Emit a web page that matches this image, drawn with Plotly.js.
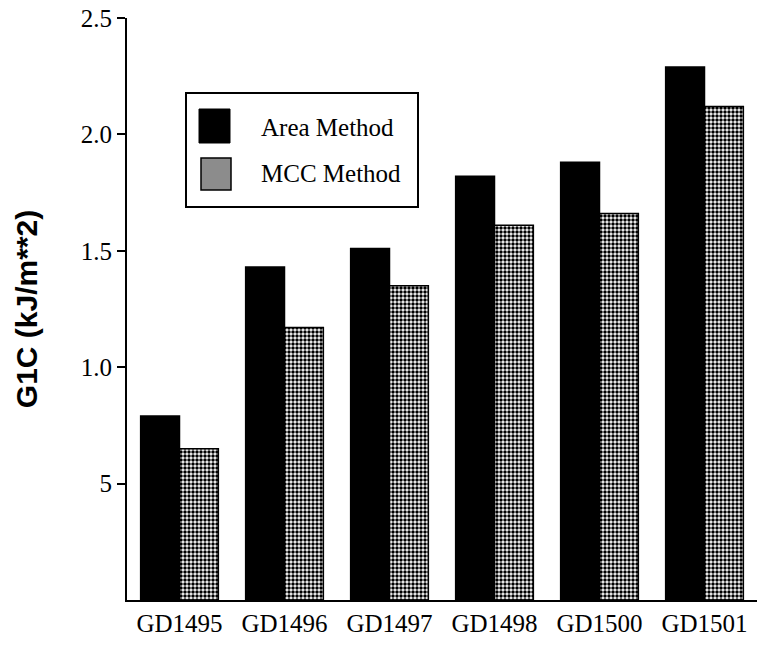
<!DOCTYPE html>
<html>
<head>
<meta charset="utf-8">
<script src="https://cdn.plot.ly/plotly-3.0.1.min.js"></script>
<style>
  html, body { margin: 0; padding: 0; background: #fff; }
  #chart { width: 763px; height: 647px; }
</style>
</head>
<body>
<div id="chart"></div>
<script>
const categories = ["GD1495", "GD1496", "GD1497", "GD1498", "GD1500", "GD1501"];
const areaMethod = [0.79, 1.43, 1.51, 1.82, 1.88, 2.29];
const mccMethod  = [0.65, 1.17, 1.35, 1.61, 1.66, 2.12];
const seriesNames = ["Area Method", "MCC Method"];
const yTickVals = [0.5, 1.0, 1.5, 2.0, 2.5];
const yTickText = ["5", "1.0", "1.5", "2.0", "2.5"];

const serif = "Liberation Serif, Times New Roman, serif";

const traces = [
  {
    type: "bar", name: seriesNames[0], x: categories, y: areaMethod,
    marker: { color: "#000", line: { color: "#000", width: 1.5 } },
    showlegend: false
  },
  {
    type: "bar", name: seriesNames[1], x: categories, y: mccMethod,
    marker: {
      color: "#fff",
      pattern: { shape: ".", fgcolor: "#000", bgcolor: "#fff", size: 4, solidity: 0.6 },
      line: { color: "#000", width: 1.5 }
    },
    showlegend: false
  }
];

// pixel -> paper helpers for the legend box (plot area: x 127..757, y 18..600)
const px = v => (v - 127) / 630;
const py = v => (600 - v) / 582;

const layout = {
  width: 763, height: 647,
  margin: { l: 127, r: 6, t: 18, b: 47 },
  paper_bgcolor: "#fff", plot_bgcolor: "#fff",
  barmode: "group", bargap: 0.26, bargroupgap: 0,
  font: { family: serif, color: "#000", size: 25 },
  xaxis: {
    range: [-0.5, 5.5], showline: true, linecolor: "#000", linewidth: 2,
    ticks: "", showgrid: false, zeroline: false,
    tickfont: { family: serif, size: 25, color: "#000" }
  },
  yaxis: {
    range: [0, 2.5], showline: true, linecolor: "#000", linewidth: 2,
    ticks: "outside", ticklen: 8, tickwidth: 2, tickcolor: "#000",
    tickvals: yTickVals, ticktext: yTickText,
    showgrid: false, zeroline: false,
    tickfont: { family: serif, size: 25, color: "#000" },
    title: {
      text: "G1C (kJ/m**2)", standoff: 34,
      font: { family: "Liberation Sans, Arial, sans-serif", size: 30, color: "#000", weight: "bold" }
    }
  },
  shapes: [
    { type: "rect", xref: "paper", yref: "paper", x0: px(186), x1: px(418), y0: py(207), y1: py(93),
      line: { color: "#000", width: 2 }, fillcolor: "#fff", layer: "above" },
    { type: "rect", xref: "paper", yref: "paper", x0: px(199), x1: px(230), y0: py(143), y1: py(109),
      line: { color: "#000", width: 1 }, fillcolor: "#000", layer: "above" },
    { type: "rect", xref: "paper", yref: "paper", x0: px(201), x1: px(231), y0: py(190), y1: py(158),
      line: { color: "#000", width: 1.5 }, fillcolor: "#8c8c8c", layer: "above" }
  ],
  annotations: [
    { xref: "paper", yref: "paper", x: px(259), y: py(127), xanchor: "left", yanchor: "middle",
      text: seriesNames[0], showarrow: false, font: { family: serif, size: 25, color: "#000" } },
    { xref: "paper", yref: "paper", x: px(259), y: py(173), xanchor: "left", yanchor: "middle",
      text: seriesNames[1], showarrow: false, font: { family: serif, size: 25, color: "#000" } }
  ]
};

Plotly.newPlot("chart", traces, layout, { displayModeBar: false, staticPlot: true });
</script>
</body>
</html>
